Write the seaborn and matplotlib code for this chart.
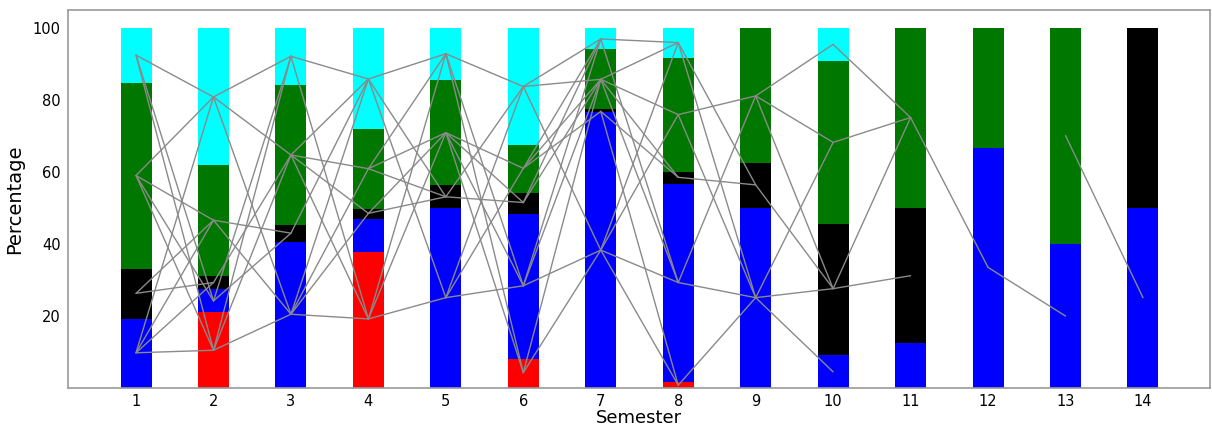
import matplotlib
matplotlib.use("Agg")
import matplotlib.pyplot as plt
import seaborn as sns
import pandas as pd
import numpy as np

# ---- data -----------------------------------------------------------
semesters = list(range(1, 15))
red   = [0, 21.0, 0, 37.9, 0, 8.2, 0, 1.7, 0, 0, 0, 0, 0, 0]
blue  = [19.2, 6.4, 40.5, 9.0, 50.1, 40.2, 76.7, 55.0, 50.0, 9.1, 12.5, 66.7, 40.0, 50.0]
black = [13.8, 3.7, 4.7, 2.9, 6.4, 5.8, 0.7, 3.2, 12.5, 36.4, 37.5, 0, 0, 50.0]
green = [51.8, 30.7, 38.9, 22.0, 29.0, 13.3, 16.8, 31.8, 37.5, 45.4, 50.0, 33.3, 60.0, 0]
cyan  = [15.2, 38.2, 15.9, 28.2, 14.5, 32.5, 5.8, 8.3, 0, 9.1, 0, 0, 0, 0]

# trajectory segments: from semester s (value v0) to semester s+1 (value v1)
seg_sem = [1]*13 + [2]*11 + [3]*11 + [4]*11 + [5]*12 + [6]*13 + [7]*12 + [8]*8 + [9]*7 + [10]*4 + [11, 12, 13]
seg_from = [
    92.4, 92.4, 92.4, 59.0, 59.0, 59.0, 59.0, 26.3, 26.3, 9.8, 9.8, 9.8, 9.8,
    80.8, 80.8, 80.8, 46.6, 46.6, 29.3, 24.2, 24.2, 10.5, 10.5, 10.5,
    92.1, 92.1, 64.7, 64.7, 64.7, 64.7, 43.0, 20.5, 20.5, 20.5, 20.5,
    85.8, 85.8, 85.8, 60.9, 60.9, 60.9, 48.5, 48.5, 19.2, 19.2, 19.2,
    92.8, 92.8, 92.8, 70.9, 70.9, 70.9, 70.9, 53.1, 53.1, 25.1, 25.1, 25.1,
    83.7, 83.7, 83.7, 61.0, 61.0, 61.0, 51.5, 51.5, 28.4, 28.4, 28.4, 4.3, 4.3,
    96.9, 96.9, 85.7, 85.7, 85.7, 85.7, 76.8, 76.8, 38.3, 38.3, 38.3, 38.3,
    95.9, 95.9, 75.9, 75.9, 58.5, 29.3, 29.3, 0.8,
    81.1, 81.1, 81.1, 56.4, 25.1, 25.1, 25.1,
    95.4, 68.2, 27.6, 27.6,
    75.1, 33.5, 70.1,
]
seg_to = [
    80.8, 24.2, 10.5, 80.8, 46.6, 24.2, 10.5, 46.6, 29.3, 80.8, 46.6, 10.5, 29.3,
    92.1, 64.7, 20.5, 43.0, 20.5, 64.7, 92.1, 43.0, 92.1, 64.7, 20.5,
    85.8, 19.2, 85.8, 60.9, 48.5, 19.2, 85.8, 85.8, 60.9, 48.5, 19.2,
    92.8, 53.1, 25.1, 92.8, 70.9, 53.1, 70.9, 53.1, 92.8, 70.9, 25.1,
    83.7, 28.4, 4.3, 61.0, 51.5, 28.4, 4.3, 83.7, 51.5, 83.7, 61.0, 28.4,
    96.9, 85.7, 38.3, 96.9, 85.7, 76.8, 96.9, 85.7, 96.9, 85.7, 38.3, 85.7, 38.3,
    95.9, 29.3, 95.9, 75.9, 58.5, 29.3, 58.5, 0.8, 95.9, 75.9, 29.3, 0.8,
    25.1, 56.4, 81.1, 25.1, 56.4, 81.1, 25.1, 25.1,
    95.4, 68.2, 27.6, 27.6, 68.2, 27.6, 4.5,
    75.1, 75.1, 75.1, 31.2,
    33.5, 20.0, 25.1,
]

yticks = [20, 40, 60, 80, 100]

# ---- plotting -------------------------------------------------------
sns.set_theme(style="white")
plt.rcParams['font.family'] = ['DejaVu Sans']
plt.rcParams['text.color'] = 'black'
plt.rcParams['axes.labelcolor'] = 'black'
plt.rcParams['xtick.color'] = 'black'
plt.rcParams['ytick.color'] = 'black'

fig = plt.figure(figsize=(12.12, 4.26), dpi=100)
ax = fig.add_axes([0.056, 0.089, 0.942, 0.888])

layers = [("red", red), ("blue", blue), ("black", black), ("green", green), ("cyan", cyan)]
colors = {"red": "#ff0000", "blue": "#0000ff", "black": "#000000", "green": "#007800", "cyan": "#00ffff"}
cum = np.zeros(len(semesters))
cums = []
for name, vals in layers:
    cum = cum + np.array(vals)
    cums.append((name, cum.copy()))

# draw from the largest cumulative down so lower layers overlay
for name, c in reversed(cums):
    df = pd.DataFrame({"Semester": semesters, "val": c})
    sns.barplot(data=df, x="Semester", y="val", native_scale=True, width=0.4,
                color=colors[name], saturation=1, linewidth=0, ax=ax)

rows = []
for i, (s, v0, v1) in enumerate(zip(seg_sem, seg_from, seg_to)):
    rows.append({"seg": i, "Semester": s, "val": v0})
    rows.append({"seg": i, "Semester": s + 1, "val": v1})
lines = pd.DataFrame(rows)
sns.lineplot(data=lines, x="Semester", y="val", units="seg", estimator=None,
             color="#8a8a8a", linewidth=1.0, ax=ax, sort=False)

ax.set_xlim(0.12, 14.86)
ax.set_ylim(0, 105)
ax.set_xticks(semesters)
ax.set_xticklabels([str(s) for s in semesters])
ax.set_yticks(yticks)
ax.set_yticklabels([str(t) for t in yticks])
ax.tick_params(axis="x", length=3, color="#888888", labelsize=10.5, pad=1.5)
ax.tick_params(axis="y", length=0, labelsize=10.5, pad=5)
ax.set_xlabel("Semester", fontsize=13, labelpad=0)
ax.set_ylabel("Percentage", fontsize=14, labelpad=6)
for sp in ax.spines.values():
    sp.set_color("#999999")
    sp.set_linewidth(1.2)

fig.savefig("out.png", dpi=100)
